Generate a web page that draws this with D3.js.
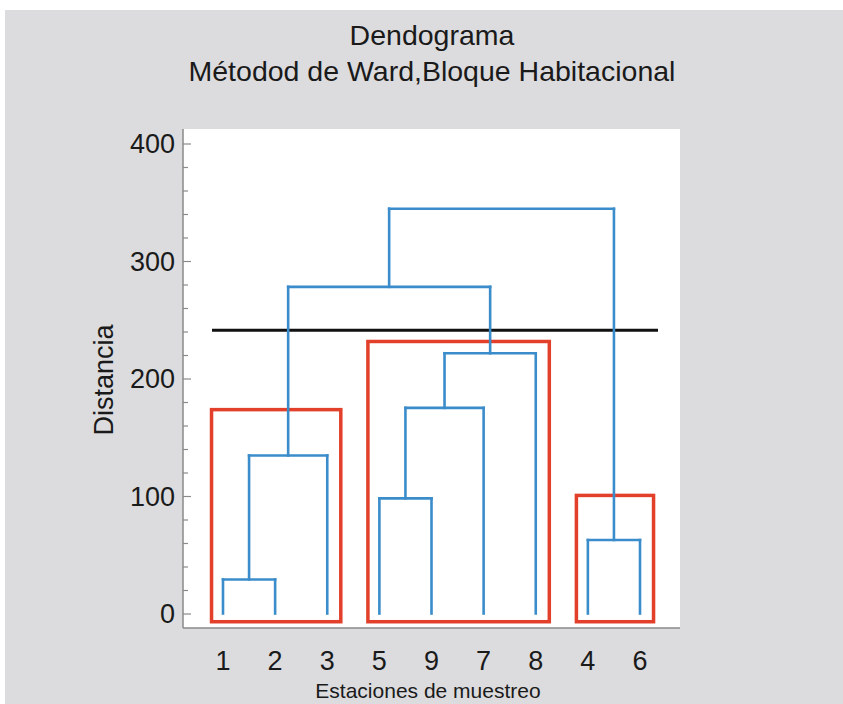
<!DOCTYPE html>
<html>
<head>
<meta charset="utf-8">
<script src="https://cdn.jsdelivr.net/npm/d3@7"></script>
<style>
  html, body { margin: 0; padding: 0; background: #fff; }
  svg { display: block; font-family: "Liberation Sans", Arial, Helvetica, sans-serif; }
</style>
</head>
<body>
<svg id="chart" width="843" height="704"></svg>
<script>
// ---- Data ----
const titleLines = ["Dendograma", "Métodod de Ward,Bloque Habitacional"];
const xTitle = "Estaciones de muestreo";
const yTitle = "Distancia";
const leafOrder = ["1", "2", "3", "5", "9", "7", "8", "4", "6"];
const yTicks = [0, 100, 200, 300, 400];
const yMinorTicks = [20, 40, 60, 80, 120, 140, 160, 180, 220, 240, 260, 280, 320, 340, 360, 380];
// merges: [left, right, height]
const merges = [
  ["1", "2", 29],
  ["m0", "3", 134.5],
  ["5", "9", 98],
  ["m2", "7", 175],
  ["m3", "8", 221.5],
  ["4", "6", 62.5],
  ["m1", "m4", 278],
  ["m6", "m5", 344.5]
];
const cutHeight = 241;
const clusterBoxes = [
  { from: "1", to: "3", top: 173.5 },
  { from: "5", to: "8", top: 231.5 },
  { from: "4", to: "6", top: 100.5 }
];
const boxBottom = -7;

// ---- Layout ----
const svg = d3.select("#chart");
const W = 843, H = 704;
const plot = { left: 183, right: 680, top: 129, bottom: 628 };
const blue = "#3a8ccb", red = "#e2402a", axisCol = "#8a8a8a";

svg.append("defs").append("filter").attr("id", "blur")
  .append("feGaussianBlur").attr("stdDeviation", 1.5);

svg.append("rect").attr("x", 0).attr("y", 0).attr("width", W).attr("height", H).attr("fill", "#fff");
svg.append("rect").attr("x", 5).attr("y", 10).attr("width", W - 5).attr("height", H - 10).attr("fill", "#dcdcde");
svg.append("rect").attr("x", plot.left).attr("y", plot.top)
  .attr("width", plot.right - plot.left).attr("height", plot.bottom - plot.top).attr("fill", "#fff");

const x = d3.scalePoint().domain(leafOrder).range([223, 640]);
const y = d3.scaleLinear().domain([0, 400]).range([613.5, 143.5]);

// titles
svg.selectAll("text.title").data(titleLines).join("text")
  .attr("class", "title")
  .attr("x", 432).attr("y", (d, i) => 45 + i * 36)
  .attr("text-anchor", "middle").attr("font-size", 28.5).attr("fill", "#1a1a1a")
  .text(d => d);

// y axis
const yAxis = d3.axisRight(y).tickValues(yTicks).tickSize(8).tickFormat("");
const gy = svg.append("g").attr("transform", `translate(${plot.left},0)`).call(yAxis);
gy.select(".domain").remove();
gy.selectAll(".tick line").attr("stroke", axisCol).attr("stroke-width", 1.2);
const yAxisMinor = d3.axisRight(y).tickValues(yMinorTicks).tickSize(5).tickFormat("");
const gy2 = svg.append("g").attr("transform", `translate(${plot.left},0)`).call(yAxisMinor);
gy2.select(".domain").remove();
gy2.selectAll(".tick line").attr("stroke", axisCol).attr("stroke-width", 1.2);

svg.append("line").attr("x1", plot.left).attr("x2", plot.left)
  .attr("y1", plot.top).attr("y2", plot.bottom).attr("stroke", axisCol).attr("stroke-width", 1.5);
svg.append("line").attr("x1", plot.left).attr("x2", plot.right)
  .attr("y1", plot.bottom).attr("y2", plot.bottom).attr("stroke", axisCol).attr("stroke-width", 1.5);

svg.selectAll("text.ytick").data(yTicks).join("text")
  .attr("class", "ytick")
  .attr("x", plot.left - 8).attr("y", d => y(d)).attr("dy", "0.36em")
  .attr("text-anchor", "end").attr("font-size", 27).attr("fill", "#1a1a1a")
  .text(d => d);

// x labels
svg.selectAll("text.xtick").data(leafOrder).join("text")
  .attr("class", "xtick")
  .attr("x", d => x(d)).attr("y", 670)
  .attr("text-anchor", "middle").attr("font-size", 27).attr("fill", "#1a1a1a")
  .text(d => d);

svg.append("text").attr("x", 428).attr("y", 698)
  .attr("text-anchor", "middle").attr("font-size", 21).attr("fill", "#1a1a1a")
  .text(xTitle);

svg.append("text").attr("transform", `translate(113,380) rotate(-90)`)
  .attr("text-anchor", "middle").attr("font-size", 27).attr("fill", "#1a1a1a")
  .text(yTitle);

// ---- Dendrogram ----
const nodes = {};
leafOrder.forEach(k => { nodes[k] = { x: x(k), h: 0 }; });
const segs = [];
merges.forEach((m, i) => {
  const a = nodes[m[0]], b = nodes[m[1]], h = m[2];
  segs.push([a.x, a.h, a.x, h]);
  segs.push([b.x, b.h, b.x, h]);
  segs.push([a.x, h, b.x, h]);
  nodes["m" + i] = { x: (a.x + b.x) / 2, h: h };
});

// cut line shadow + line
svg.append("line").attr("x1", 212).attr("x2", 658)
  .attr("y1", y(cutHeight) + 1).attr("y2", y(cutHeight) + 1)
  .attr("stroke", "#888").attr("stroke-width", 6).attr("opacity", 0.5)
  .attr("filter", "url(#blur)");
svg.append("line").attr("x1", 212).attr("x2", 658)
  .attr("y1", y(cutHeight)).attr("y2", y(cutHeight))
  .attr("stroke", "#111").attr("stroke-width", 3);

// red boxes
const step = x.step();
svg.selectAll("rect.box").data(clusterBoxes).join("rect")
  .attr("class", "box")
  .attr("x", d => x(d.from) - step * 0.22)
  .attr("y", d => y(d.top))
  .attr("width", d => x(d.to) - x(d.from) + step * 0.22 + step * 0.26)
  .attr("height", d => y(boxBottom) - y(d.top))
  .attr("fill", "none").attr("stroke", red).attr("stroke-width", 3.5);

svg.selectAll("line.seg").data(segs).join("line")
  .attr("class", "seg")
  .attr("x1", d => d[0]).attr("y1", d => y(d[1]))
  .attr("x2", d => d[2]).attr("y2", d => y(d[3]))
  .attr("stroke", blue).attr("stroke-width", 2.6).attr("stroke-linecap", "square");
</script>
</body>
</html>
